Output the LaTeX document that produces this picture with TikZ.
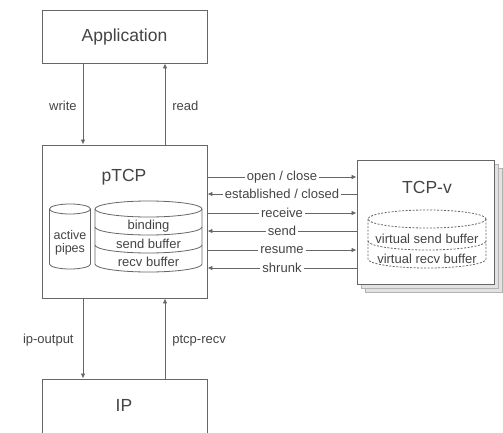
\documentclass[tikz,border=0pt]{standalone}
\usepackage{fontspec}
\setmainfont{Liberation Sans}
\usetikzlibrary{arrows.meta,calc}
\definecolor{ln}{HTML}{666666}
\definecolor{tx}{HTML}{444444}
\definecolor{shd}{HTML}{E2E2E2}
\begin{document}
\begin{tikzpicture}[x=1pt,y=-1pt,
 box/.style={draw=ln,line width=0.9pt,fill=white,inner sep=0pt},
 big/.style={text=tx,font=\fontsize{17.5}{20}\selectfont,inner sep=0pt},
 lab/.style={text=tx,font=\fontsize{13}{15}\selectfont,inner sep=0pt},
 mid/.style={lab,fill=white,inner sep=2pt},
 arr/.style={draw=ln,line width=0.8pt,-{Latex[length=5pt,width=4.5pt]}},
 cyl/.style={draw=ln,line width=0.8pt},
 dcyl/.style={draw=ln,line width=0.8pt,dash pattern=on 2pt off 1.5pt},
 shadow/.style={draw=gray!60,line width=0.8pt,fill=shd,minimum width=137pt,minimum height=124pt},
]
\useasboundingbox (0,0) rectangle (503,433);
% boxes
\node[box,big,minimum width=165pt,minimum height=53pt] (app) at (124.5,36.5) {Application};
\node[box,minimum width=165pt,minimum height=153pt] (ptcp) at (124.5,221.5) {};
\node[big] (ptcplab) at (124,177) {pTCP};
\node[box,minimum width=165pt,minimum height=70pt] (ip) at (124.5,414) {};
\node[big] (iplab) at (124,405) {IP};
\node[shadow] (sh2) at (433.5,230) {};
\node[shadow] (sh1) at (429.5,226) {};
\node[box,minimum width=137pt,minimum height=124pt] (tcpv) at (425.5,222) {};
\node[big] (tcpvlab) at (427,187) {TCP-v};
% vertical connectors
\coordinate (xw) at (83,0);
\coordinate (xr) at (165,0);
\draw[arr] (app.south -| xw) -- node[lab,anchor=east,xshift=-6pt,yshift=-2pt]{write} (ptcp.north -| xw);
\draw[arr] (ptcp.north -| xr) -- node[lab,anchor=west,xshift=7pt,yshift=-2pt]{read} (app.south -| xr);
\draw[arr] (ptcp.south -| xw) -- node[lab,anchor=east,xshift=-9pt,yshift=-2pt]{ip-output} (ip.north -| xw);
\draw[arr] (ip.north -| xr) -- node[lab,anchor=west,xshift=7pt,yshift=-2pt]{ptcp-recv} (ptcp.south -| xr);
% horizontal connectors
\coordinate (y1) at (0,177);
\coordinate (y2) at (0,194);
\coordinate (y3) at (0,213);
\coordinate (y4) at (0,231);
\coordinate (y5) at (0,250);
\coordinate (y6) at (0,268);
\draw[arr] (ptcp.east |- y1) -- node[mid]{open / close} (tcpv.west |- y1);
\draw[arr] (tcpv.west |- y2) -- node[mid]{established / closed} (ptcp.east |- y2);
\draw[arr] (ptcp.east |- y3) -- node[mid]{receive} (tcpv.west |- y3);
\draw[arr] (tcpv.west |- y4) -- node[mid]{send} (ptcp.east |- y4);
\draw[arr] (ptcp.east |- y5) -- node[mid]{resume} (tcpv.west |- y5);
\draw[arr] (tcpv.west |- y6) -- node[mid]{shrunk} (ptcp.east |- y6);
% active pipes cylinder
\draw[cyl] (70,209) ellipse[x radius=20.5,y radius=5];
\draw[cyl] (49.5,209) -- (49.5,264) arc[start angle=180,end angle=0,x radius=20.5,y radius=5] -- (90.5,209);
\node[lab,align=center,font=\fontsize{12.5}{13}\selectfont] (ap) at (70,243) {active\\pipes};
% big cylinder
\draw[cyl] (148.5,209) ellipse[x radius=53.5,y radius=8];
\draw[cyl] (95,209) -- (95,264) arc[start angle=180,end angle=0,x radius=53.5,y radius=8] -- (202,209);
\draw[cyl] (95,227) arc[start angle=180,end angle=0,x radius=53.5,y radius=8];
\draw[cyl] (95,245) arc[start angle=180,end angle=0,x radius=53.5,y radius=8];
\node[lab] (bind) at (148.5,226) {binding};
\node[lab] (sbuf) at (148.5,244) {send buffer};
\node[lab] (rbuf) at (148.5,262) {recv buffer};
% virtual cylinder
\draw[dcyl] (427,219) ellipse[x radius=59,y radius=9];
\draw[dcyl] (368,219) -- (368,259) arc[start angle=180,end angle=0,x radius=59,y radius=9] -- (486,219);
\draw[dcyl] (368,241) arc[start angle=180,end angle=0,x radius=59,y radius=9];
\node[lab] (vsb) at (427,239) {virtual send buffer};
\node[lab] (vrb) at (427,259) {virtual recv buffer};
\end{tikzpicture}
\end{document}
